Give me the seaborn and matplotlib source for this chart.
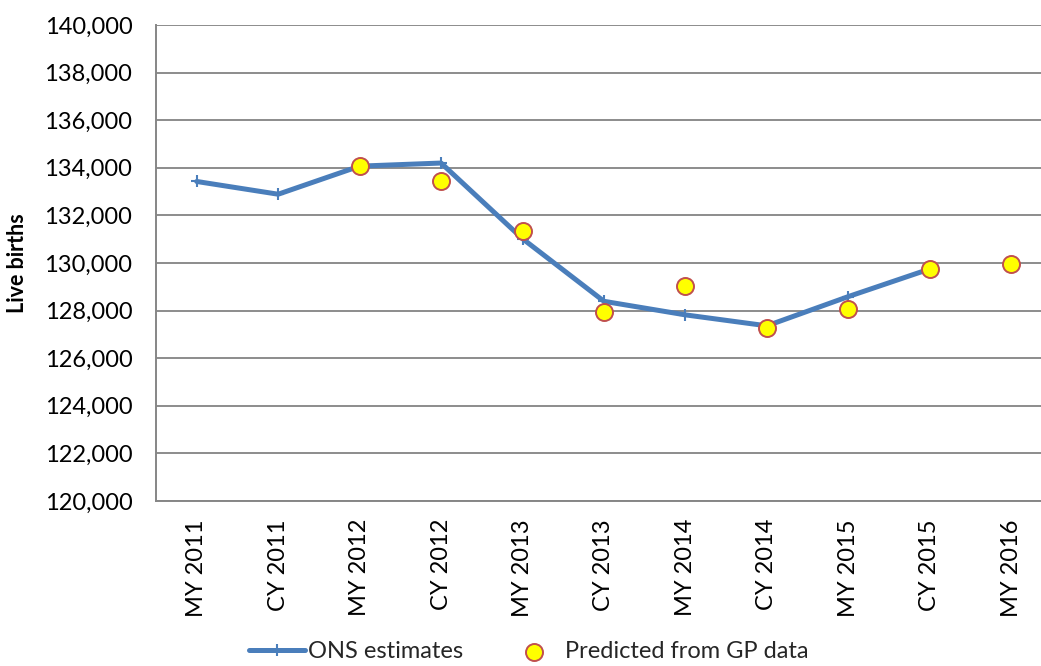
import numpy as np
import pandas as pd
import matplotlib
matplotlib.use("Agg")
import matplotlib.pyplot as plt
import seaborn as sns
from matplotlib.ticker import FuncFormatter, FixedLocator

categories = ["MY 2011", "CY 2011", "MY 2012", "CY 2012", "MY 2013", "CY 2013",
              "MY 2014", "CY 2014", "MY 2015", "CY 2015", "MY 2016"]
ons_estimates = [133425, 132890, 134070, 134200, 131020, 128390,
                 127820, 127360, 128590, 129750, np.nan]
gp_predicted = [np.nan, np.nan, 134070, 133450, 131330, 127960,
                129040, 127270, 128055, 129750, 129960]
y_ticks = list(range(120000, 140001, 2000))

sns.set_theme(style="white")
plt.rcParams['font.family'] = ['Lato', 'DejaVu Sans']

FS = 17

df = pd.DataFrame({
    "pos": np.arange(len(categories)),
    "category": categories,
    "ons": ons_estimates,
    "gp": gp_predicted,
})

fig = plt.figure(figsize=(10.41, 6.66), dpi=100)
ax = fig.add_axes([156/1041, (666-501)/666, 896/1041, 476/666])

sns.lineplot(data=df.dropna(subset=["ons"]), x="pos", y="ons", ax=ax,
             color="#4A7EBB", linewidth=3.6, marker="+", markersize=9,
             markeredgewidth=1.5, markeredgecolor="#4A7EBB",
             label="ONS estimates", zorder=3)
sns.scatterplot(data=df.dropna(subset=["gp"]), x="pos", y="gp", ax=ax,
                color="#FFFF00", edgecolor="#C0504D", linewidth=1.4, s=150,
                label="Predicted from GP data", zorder=4)

ax.set_xlim(-0.5, len(categories) - 0.5)
ax.set_ylim(120000, 140000)
ax.set_yticks(y_ticks)
ax.yaxis.set_major_formatter(FuncFormatter(lambda v, p: f"{int(v):,}"))
ax.set_xticks(df["pos"])
ax.set_xticklabels(categories, rotation=90, fontsize=FS)
ax.xaxis.set_minor_locator(FixedLocator(np.arange(-0.5, len(categories), 1.0)))
ax.tick_params(axis="x", which="major", length=0, pad=13)
ax.tick_params(axis="x", which="minor", length=8, width=1.2, color="#868686")
ax.tick_params(axis="y", which="major", length=8, width=1.2, color="#868686",
               labelsize=FS, pad=9)
for lbl in ax.get_yticklabels():
    lbl.set_color("black")
for lbl in ax.get_xticklabels():
    lbl.set_color("black")

ax.grid(axis="y", color="#8C8C8C", linewidth=1.4)
ax.grid(axis="x", visible=False)
ax.set_axisbelow(True)
for side in ["top", "right"]:
    ax.spines[side].set_visible(False)
for side in ["left", "bottom"]:
    ax.spines[side].set_color("#868686")
    ax.spines[side].set_linewidth(1.4)

ax.set_xlabel("")
ax.set_ylabel("Live births", fontsize=15.5, fontweight="bold", labelpad=12,
              color="black")

ax.legend(loc="center", bbox_to_anchor=((529-156)/896, (666-652-165)/476),
          ncol=2, frameon=False, fontsize=FS, handlelength=2.35,
          columnspacing=1.8, handletextpad=0.15)

fig.savefig("out.png", dpi=100)
